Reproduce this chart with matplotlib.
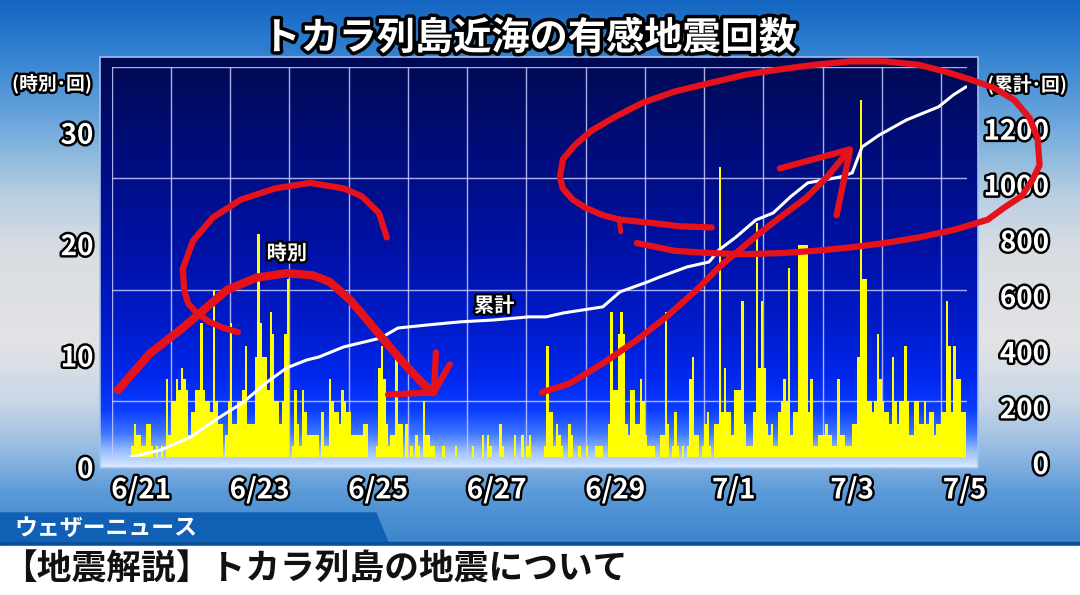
import numpy as np
import matplotlib
matplotlib.use('Agg')
import matplotlib.pyplot as plt
import matplotlib.patheffects as pe
from matplotlib.colors import LinearSegmentedColormap
from matplotlib.patches import Rectangle, Polygon
from matplotlib.transforms import ScaledTranslation

plt.rcParams['font.family'] = ['Noto Sans CJK JP', 'DejaVu Sans']

# 時別回数: 6/21 8時から1時間ごと
first_hour = 8
hourly_counts = [
    1, 3, 2, 2, 1, 1, 3, 3, 1, 0, 1, 0, 1, 0,
    7, 2, 5, 5, 7, 6, 8, 7, 6, 2, 4, 4, 6, 6,
    12, 6, 5, 5, 4, 15, 5, 3, 3, 0, 2, 5, 12, 3,
    3, 5, 5, 6, 10, 3, 3, 3, 9, 20, 12, 9, 9, 6,
    13, 11, 5, 5, 3, 5, 11, 16, 0, 1, 6, 3, 1, 6, 4, 2, 2, 2, 2, 2,
    0, 4, 1, 1, 7, 5, 4, 4, 3, 6, 5, 4, 4, 2, 2, 2, 2, 2, 3, 3, 0, 0, 0, 1,
    8, 10, 7, 3, 1, 2, 2, 9, 3, 3,
    0, 3, 0, 1, 0, 2, 1, 0, 5, 2,
    2, 1, 1, 0, 0, 0, 1, 0, 0, 0,
    0, 1, 0, 0, 0, 0, 0, 0, 1, 0,
    0, 0, 2, 0, 2, 1, 0, 0, 0, 3,
    1, 0, 0, 0, 0, 2, 0, 0, 2, 0,
    1,
    2, 0, 0, 0, 0, 0, 1, 10, 4, 4,
    1, 3, 2, 1, 0, 0, 3, 2, 0, 0,
    1, 0, 0, 1, 0, 0, 0, 1, 1, 1,
    0, 0, 3, 13, 6, 6, 11, 13, 11, 3,
    2, 6, 6, 3, 3, 7, 5, 2, 1, 1,
    1, 0, 0, 2, 2, 13, 3, 0, 1, 4,
    1, 0, 1, 0, 1, 7, 9, 2, 2, 0,
    1, 3, 4, 1, 0, 3, 3, 26, 4, 8,
    4, 4, 2, 6, 6,
    6, 14, 3, 1, 1, 1, 4, 21, 8, 14,
    8, 3, 2, 3, 1, 1, 4, 5, 7, 5,
    17, 2, 4, 4, 19, 19, 19, 19, 4, 7,
    1, 1, 2, 2, 2, 3, 2, 2, 1, 1,
    7, 2, 2, 1, 1, 1, 3, 3, 9, 32,
    16, 16, 5, 5, 4, 5, 11, 7, 5, 4,
    4, 3, 9, 5, 3, 5, 5, 10, 5, 2,
    2, 5, 5, 3, 3, 5, 3, 4, 4, 2,
    3, 3, 4, 4, 14, 10, 4, 10, 7, 7,
    4, 4,
]

# 累計: 6/21 0時からの経過時間と回数
cum_hours = [8, 20, 32, 44, 53, 63, 71, 79, 84, 94, 109, 116, 128, 141, 155,
             169, 176, 183, 199, 206, 217, 222, 233, 242, 246, 253, 261, 268,
             275, 282, 295, 300, 304, 311, 322, 335, 341, 346]
cum_counts = [0, 25, 72, 144, 194, 269, 320, 348, 359, 395, 427, 463, 474, 485,
              492, 503, 503, 517, 539, 593, 628, 646, 682, 700, 743, 790, 851,
              876, 934, 984, 1005, 1020, 1113, 1156, 1210, 1257, 1300, 1328]

date_labels = ['6/21', '6/23', '6/25', '6/27', '6/29', '7/1', '7/3', '7/5']
left_ticks = [0, 10, 20, 30]
right_ticks = [0, 200, 400, 600, 800, 1000, 1200]

# 赤の手書き線 (経過時間, 時別の目盛り)
loop_stroke = [(111.5, 19.7), (108.3, 21.9), (101.4, 23.4), (94.1, 24.1), (80.4, 24.6),
               (66.2, 24.1), (52.4, 23.1), (41.1, 21.5), (33.0, 19.4), (28.9, 16.9),
               (29.4, 15.0), (31.0, 13.8), (34.6, 12.9), (39.9, 12.1), (45.1, 11.6),
               (51.2, 11.2)]
arc_stroke = [(2.6, 6.0), (15.6, 9.3), (28.9, 11.6), (35.8, 12.9), (46.8, 15.0),
              (58.9, 16.1), (71.1, 16.5), (81.6, 16.3), (88.5, 15.7), (96.6, 14.1),
              (104.7, 12.0), (111.5, 10.2), (119.6, 8.1), (126.1, 6.6), (130.2, 5.8)]
arc_head = [[(112.0, 5.6), (130.6, 5.8)],
            [(131.4, 9.4), (130.6, 5.8)],
            [(130.6, 5.8), (137.0, 8.3)]]
rise_stroke = [(174.3, 5.8), (185.6, 6.6), (199.0, 8.4), (212.8, 10.5), (224.9, 12.6),
               (237.0, 15.0), (246.4, 17.1), (254.5, 18.6), (262.6, 20.1), (270.7, 21.5),
               (281.6, 23.3), (289.7, 25.1), (299.0, 27.6)]
rise_head = [[(270.7, 25.9), (299.0, 27.6)],
             [(293.7, 21.7), (299.0, 27.4)]]
ellipse_stroke = [(243.1, 20.6), (230.2, 20.7), (219.2, 21.0), (205.9, 21.3), (199.0, 21.7),
                  (191.7, 22.4), (186.8, 23.1), (182.8, 24.1), (181.6, 25.1), (182.8, 26.7),
                  (187.7, 28.0), (194.5, 29.3), (203.8, 30.5), (215.2, 31.8), (228.1, 32.8),
                  (243.1, 33.6), (256.5, 34.3), (271.1, 34.8), (284.8, 35.2), (299.0, 35.5),
                  (313.2, 35.5), (326.9, 35.2), (337.4, 34.6), (347.6, 33.9), (357.7, 33.1),
                  (365.8, 32.0), (371.9, 30.4), (375.1, 28.6), (375.9, 26.2), (373.1, 24.9),
                  (368.6, 23.4), (361.7, 22.4), (354.9, 21.3), (341.5, 20.4), (326.9, 19.7),
                  (313.2, 19.2), (299.0, 18.8), (284.8, 18.5), (271.1, 18.3), (256.5, 18.2),
                  (243.1, 18.3), (228.1, 18.5), (212.8, 19.2)]
ellipse_tick = [(205.5, 21.4), (206.3, 20.2)]

outline = [pe.withStroke(linewidth=3.5, foreground='black')]


def vertical_gradient(stops):
    cmap = LinearSegmentedColormap.from_list('g', stops)
    return cmap(np.linspace(0, 1, 400))[:, None, :3]


fig = plt.figure(figsize=(10.8, 5.95), dpi=100)

# 背景
bg = fig.add_axes([0, 0, 1, 1], zorder=0)
bg.set_xlim(0, 1080)
bg.set_ylim(595, 0)
bg.axis('off')
page_stops = [(0.00, '#1566c2'), (0.08, '#2f7fd0'), (0.20, '#6aa6dc'), (0.33, '#b9cfe2'),
              (0.42, '#d9dde2'), (0.58, '#e2e3e5'), (0.68, '#c6d6e6'), (0.76, '#94bae2'),
              (0.83, '#5b9ad8'), (0.91, '#3e86cc'), (1.00, '#2a70bf')]
bg.imshow(vertical_gradient(page_stops), extent=(0, 1080, 595, 0), aspect='auto')
panel_stops = [(0.00, '#000a52'), (0.25, '#000d7e'), (0.48, '#0012a8'), (0.66, '#001ccc'),
               (0.78, '#0228ee'), (0.86, '#0a3cff'), (0.92, '#3f78ff'), (0.96, '#98bcff'),
               (1.00, '#d6e8ff')]
bg.imshow(vertical_gradient(panel_stops), extent=(100, 978, 468, 57), aspect='auto')
bg.add_patch(Rectangle((100, 57), 878, 411, fill=False, edgecolor='#9fc0ee', lw=1.2))

# 下の帯
bg.add_patch(Polygon([(0, 513), (376, 513), (388, 543), (0, 543)], color='#1060b6'))
bg.add_patch(Rectangle((0, 542), 1080, 4, color='#0a4e9e'))
bg.add_patch(Rectangle((0, 546), 1080, 49, color='white'))
bg.text(14, 528, 'ウェザーニュース', fontsize=16.5, weight='bold', color='white',
        ha='left', va='center')
bg.text(2, 569, '【地震解説】トカラ列島の地震について', fontsize=25, weight='bold',
        color='#111111', ha='left', va='center')

bg.text(530, 38, 'トカラ列島近海の有感地震回数', fontsize=27.5, weight='bold',
        color='white', ha='center', va='center',
        path_effects=[pe.withStroke(linewidth=5, foreground='black')])
bg.text(52, 84, '(時別･回)', fontsize=13.5, weight='bold', color='white',
        ha='center', va='center', path_effects=outline)
bg.text(1027, 85, '(累計･回)', fontsize=13.5, weight='bold', color='white',
        ha='center', va='center', path_effects=outline)

# グラフ
ax = fig.add_axes([111.5 / 1080, 138 / 595, 855.5 / 1080, 390 / 595], zorder=1)
ax.patch.set_alpha(0)
ax2 = ax.twinx()
ax2.set_zorder(2)

hours = first_hour + np.arange(len(hourly_counts))
ax.bar(hours, hourly_counts, width=1.0, align='edge', color='#ffff00', lw=0, zorder=2)

ax2.plot(cum_hours, cum_counts, color='white', lw=2.2, solid_joinstyle='round', zorder=3)

ax.set_xlim(0, 346.5)
ax.set_ylim(0, 35)
ax2.set_ylim(0, 1400)

ax.set_xticks(np.arange(0, 337, 24), minor=True)
ax.set_yticks(np.arange(0, 36, 5), minor=True)
ax.grid(which='minor', color='#c8ccff', lw=1.0, alpha=0.85)
ax.set_axisbelow(True)

label_pos = np.minimum(12 + 48 * np.arange(len(date_labels)), 345.5)
ax.set_xticks(label_pos, date_labels)
ax.set_yticks(left_ticks)
ax2.set_yticks(right_ticks)

for a in (ax, ax2):
    for s in a.spines.values():
        s.set_visible(False)
    a.tick_params(which='both', length=0, labelsize=20, labelcolor='white')
ax.tick_params(axis='x', pad=14)
ax.tick_params(axis='y', pad=13)
ax2.tick_params(axis='y', pad=59)

shift_left = ScaledTranslation(0, -0.10, fig.dpi_scale_trans)
shift_right = ScaledTranslation(0, -0.06, fig.dpi_scale_trans)
for t in ax.get_xticklabels():
    t.set_path_effects(outline)
    t.set_fontweight('bold')
for t in ax.get_yticklabels():
    t.set_path_effects(outline)
    t.set_fontweight('bold')
    t.set_transform(t.get_transform() + shift_left)
for t in ax2.get_yticklabels():
    t.set_path_effects(outline)
    t.set_fontweight('bold')
    t.set_ha('right')
    t.set_transform(t.get_transform() + shift_right)

ax.text(71, 18.3, '時別', fontsize=14.5, weight='bold', color='white',
        ha='center', va='center', path_effects=outline, zorder=4)
ax.text(155, 13.6, '累計', fontsize=14.5, weight='bold', color='white',
        ha='center', va='center', path_effects=outline, zorder=4)

# 手書きの赤線
red = '#e5121b'
strokes = [(loop_stroke, 4.5), (arc_stroke, 6.0), (rise_stroke, 4.5),
           (ellipse_stroke, 4.5), (ellipse_tick, 3.5)]
strokes += [(s, 4.5) for s in arc_head + rise_head]
for pts, lw in strokes:
    xs, ys = zip(*pts)
    ax2.plot(xs, ys, color=red, lw=lw, transform=ax.transData, clip_on=False,
             solid_capstyle='round', solid_joinstyle='round', zorder=10)

ax.set_xlim(0, 346.5)
ax.set_ylim(0, 35)
ax2.set_ylim(0, 1400)

fig.savefig('out.png', dpi=100)
